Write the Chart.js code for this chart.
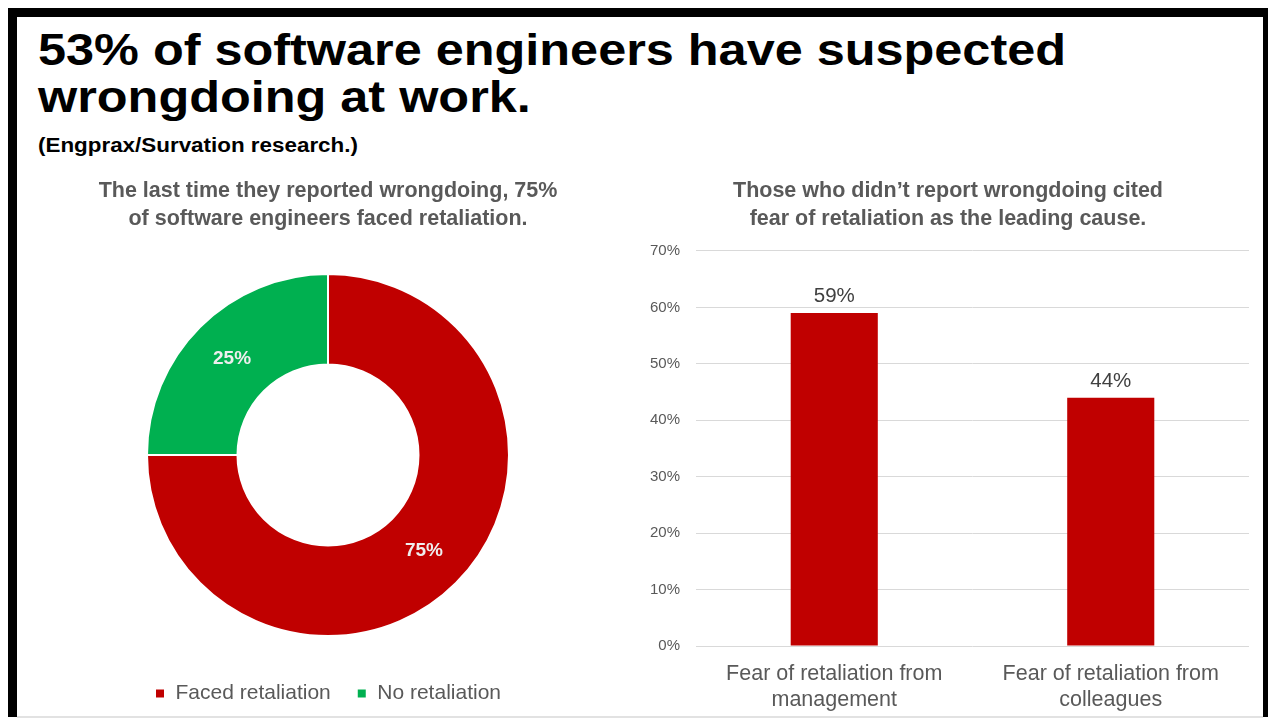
<!DOCTYPE html>
<html>
<head>
<meta charset="utf-8">
<title>Wrongdoing at work</title>
<script src="https://cdn.jsdelivr.net/npm/chart.js@4.4.1/dist/chart.umd.min.js"></script>
<style>
  html, body {
    margin: 0;
    padding: 0;
    width: 1268px;
    height: 719px;
    overflow: hidden;
    background: #ffffff;
    font-family: "Liberation Sans", Arial, Helvetica, sans-serif;
  }
  .frame { position: absolute; background: #000; }
  .frame.top    { left: 8px;    top: 8px; width: 1260px; height: 9px; }
  .frame.left   { left: 8px;    top: 8px; width: 9px;    height: 709px; }
  .frame.right  { left: 1263px; top: 8px; width: 5px;    height: 709px; }
  .frame.bottom { left: 17px; top: 716px; width: 1246px; height: 2px; background: #e2e2e2; }
  .headline {
    position: absolute; left: 38px; top: 26px;
    font-weight: bold; font-size: 45px; line-height: 47px; color: #000;
    white-space: nowrap; transform: scaleX(1.12); transform-origin: 0 0;
  }
  .source {
    position: absolute; left: 38px; top: 133px;
    font-weight: bold; font-size: 20px; line-height: 24px; color: #000;
    white-space: nowrap; transform: scaleX(1.12); transform-origin: 0 0;
  }
  #donut { position: absolute; left: 38px; top: 170px; }
  #bars  { position: absolute; left: 636px; top: 170px; }
</style>
</head>
<body>
<div class="frame top"></div>
<div class="frame left"></div>
<div class="frame right"></div>
<div class="frame bottom"></div>

<div class="headline">53% of software engineers have suspected<br>wrongdoing at work.</div>
<div class="source">(Engprax/Survation research.)</div>

<canvas id="donut" width="580" height="545"></canvas>
<canvas id="bars" width="626" height="560"></canvas>

<script>
// Share of engineers who faced retaliation after reporting
const outcomeLabels = ['Faced retaliation', 'No retaliation'];
const outcomeValues = [75, 25];
const outcomeColors = ['#C00000', '#00B050'];
const outcomeTitle = ['The last time they reported wrongdoing, 75%', 'of software engineers faced retaliation.'];

// Reasons cited for not reporting
const reasonLabels = [
  ['Fear of retaliation from', 'management'],
  ['Fear of retaliation from', 'colleagues']
];
const reasonValues = [59, 44];
const reasonTitle = ['Those who didn\u2019t report wrongdoing cited', 'fear of retaliation as the leading cause.'];
const axisMax = 70;
const axisStep = 10;

const FONT = '"Liberation Sans", Arial, Helvetica, sans-serif';
const GREY = '#595959';
Chart.defaults.font.family = FONT;
Chart.defaults.devicePixelRatio = 1;

// Percent text in the middle of each ring segment
const sliceLabels = {
  id: 'sliceLabels',
  afterDatasetsDraw(chart) {
    const ctx = chart.ctx;
    const meta = chart.getDatasetMeta(0);
    ctx.save();
    ctx.font = 'bold 19px ' + FONT;
    ctx.fillStyle = '#eeeeee';
    ctx.textAlign = 'center';
    ctx.textBaseline = 'middle';
    meta.data.forEach((arc, i) => {
      const p = arc.getCenterPoint();
      ctx.fillText(outcomeValues[i] + '%', p.x, p.y);
    });
    ctx.restore();
  }
};

// Value text above each bar
const barValueLabels = {
  id: 'barValueLabels',
  afterDatasetsDraw(chart) {
    const ctx = chart.ctx;
    const meta = chart.getDatasetMeta(0);
    ctx.save();
    ctx.font = '20.5px ' + FONT;
    ctx.fillStyle = '#404040';
    ctx.textAlign = 'center';
    ctx.textBaseline = 'alphabetic';
    meta.data.forEach((bar, i) => {
      ctx.fillText(reasonValues[i] + '%', bar.x, bar.y - 11);
    });
    ctx.restore();
  }
};

new Chart(document.getElementById('donut'), {
  type: 'doughnut',
  data: {
    labels: outcomeLabels,
    datasets: [{
      data: outcomeValues,
      backgroundColor: outcomeColors,
      borderColor: '#ffffff',
      borderWidth: 2,
      hoverOffset: 0,
      offset: 0
    }]
  },
  options: {
    responsive: false,
    animation: false,
    radius: 181,
    cutout: '50%',
    layout: { padding: { top: 0, bottom: 1, left: 0, right: 0 } },
    plugins: {
      tooltip: { enabled: false },
      title: {
        display: true,
        text: outcomeTitle,
        color: GREY,
        font: { size: 21.5, weight: 'bold', lineHeight: 1.3023 },
        padding: { top: 7, bottom: 20 }
      },
      legend: {
        position: 'bottom',
        labels: {
          color: GREY,
          font: { size: 21 },
          boxWidth: 10,
          boxHeight: 10,
          padding: 26
        }
      }
    }
  },
  plugins: [sliceLabels]
});

new Chart(document.getElementById('bars'), {
  type: 'bar',
  data: {
    labels: reasonLabels,
    datasets: [{
      data: reasonValues,
      backgroundColor: '#C00000',
      borderWidth: 0,
      barPercentage: 0.315,
      categoryPercentage: 1
    }]
  },
  options: {
    responsive: false,
    animation: false,
    layout: { padding: { left: 11, right: 13, top: 0, bottom: 19 } },
    plugins: {
      legend: { display: false },
      tooltip: { enabled: false },
      title: {
        display: true,
        text: reasonTitle,
        color: GREY,
        font: { size: 21.5, weight: 'bold', lineHeight: 1.3023 },
        padding: { top: 7, bottom: 18 }
      }
    },
    scales: {
      x: {
        grid: { display: false },
        border: { display: false },
        ticks: {
          color: GREY,
          font: { size: 21.5, lineHeight: 1.2093 },
          padding: 7,
          maxRotation: 0,
          autoSkip: false
        },
        afterFit(scale) { scale.height = 65; }
      },
      y: {
        min: 0,
        max: axisMax,
        border: { display: false },
        grid: { color: '#d9d9d9', lineWidth: 1, drawTicks: false },
        ticks: {
          stepSize: axisStep,
          color: GREY,
          font: { size: 15 },
          padding: 16,
          callback: (v) => v + '%'
        },
        afterFit(scale) { scale.width = 49; }
      }
    }
  },
  plugins: [barValueLabels]
});
</script>
</body>
</html>
